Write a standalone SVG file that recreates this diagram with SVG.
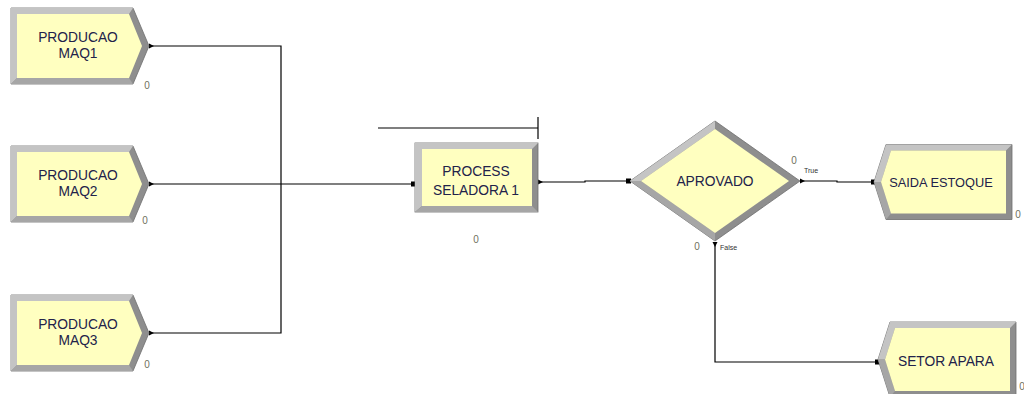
<svg xmlns="http://www.w3.org/2000/svg" width="1024" height="394" viewBox="0 0 1024 394">
<defs>
<style>
.dark{fill:#8e8e8e;stroke:#6e6e6e;stroke-width:0.8}
.light{fill:#c4c4c4}
.mid{fill:#a6a6a6}
.body{fill:#ffffc0}
.lbl{font-family:"Liberation Sans",Arial,sans-serif;font-size:13.8px;fill:#22224a;text-anchor:middle}
.cnt{font-family:"Liberation Sans",Arial,sans-serif;font-size:10px;fill:#707060;text-anchor:middle}
.tiny{font-family:"Liberation Sans",Arial,sans-serif;font-size:7px;fill:#333}
.wire{fill:none;stroke:#000;stroke-width:1.2}
</style>
<g id="createShape">
<polygon class="dark" points="0,0 122,0 138,38 122,76 0,76"/>
<polygon class="light" points="0,0 122,0 118,6 6,6 6,70 0,76"/>
<polygon class="mid" points="0,76 6,70 118,70 122,76"/>
<polygon class="body" points="6,6 118,6 131,38 118,70 6,70"/>
</g>
<g id="disposeShape">
<polygon class="dark" points="12,0 138,0 138,75 12,75 0,37.5"/>
<polygon class="light" points="12,0 138,0 132,6 17,6 7,37.5 0,37.5"/>
<polygon class="mid" points="0,37.5 7,37.5 17,69 12,75"/>
<polygon class="body" points="17,6 132,6 132,69 17,69 7,37.5"/>
</g>
</defs>
<rect width="1024" height="394" fill="#ffffff"/>

<g id="connectors">
<polyline class="wire" points="149,46 281,46 281,333 149,333"/>
<polyline class="wire" points="149,184 415,184"/>
<polyline class="wire" points="538,182 585,182 585,181 630,181"/>
<polyline class="wire" points="800,181 837,181 837,182 874,182"/>
<polyline class="wire" points="715,242 715,362 878,362"/>
<polygon points="154,46 149,43.5 149,48.5" fill="#000"/>
<polygon points="154,184 149,181.5 149,186.5" fill="#000"/>
<polygon points="154,333 149,330.5 149,335.5" fill="#000"/>
<rect x="411" y="181.5" width="5" height="5" fill="#000"/>
<polygon points="543,182 538,179.5 538,184.5" fill="#000"/>
<rect x="626" y="178.5" width="5" height="5" fill="#000"/>
<polygon points="805,181 800,178.5 800,183.5" fill="#000"/>
<polygon points="715,247 712.5,242 717.5,242" fill="#000"/>
<rect x="871" y="179.5" width="5" height="5" fill="#000"/>
<rect x="875" y="359.5" width="5" height="5" fill="#000"/>
</g>

<g id="producao-maq1">
<use href="#createShape" x="11" y="8"/>
<text class="lbl" x="78" y="42">PRODUCAO</text>
<text class="lbl" x="78" y="58">MAQ1</text>
<text class="cnt" x="147" y="89">0</text>
</g>
<g id="producao-maq2">
<use href="#createShape" x="11" y="146"/>
<text class="lbl" x="78" y="180">PRODUCAO</text>
<text class="lbl" x="78" y="196">MAQ2</text>
<text class="cnt" x="145" y="224">0</text>
</g>
<g id="producao-maq3">
<use href="#createShape" x="11" y="295"/>
<text class="lbl" x="78" y="329">PRODUCAO</text>
<text class="lbl" x="78" y="345">MAQ3</text>
<text class="cnt" x="147" y="368">0</text>
</g>

<g id="process-seladora">
<line x1="378" y1="128" x2="538" y2="128" stroke="#000" stroke-width="1.2"/>
<line x1="538" y1="117" x2="538" y2="139" stroke="#000" stroke-width="1.2"/>
<rect class="dark" x="415" y="143" width="123" height="69"/>
<polygon class="light" points="415,143 538,143 532,149 422,149 422,206 415,212"/>
<polygon class="mid" points="415,212 422,206 532,206 538,212"/>
<rect class="body" x="422" y="149" width="110" height="57"/>
<text class="lbl" x="476" y="176">PROCESS</text>
<text class="lbl" x="476" y="195">SELADORA 1</text>
<text class="cnt" x="476" y="243">0</text>
</g>

<g id="aprovado">
<polygon class="dark" points="630,181 715,121 800,181 715,241"/>
<polygon class="light" points="630,181 715,121 715,129 641,181"/>
<polygon class="mid" points="630,181 641,181 715,233 715,241"/>
<polygon class="body" points="641,181 715,129 789,181 715,233"/>
<text class="lbl" x="715" y="186">APROVADO</text>
<text class="cnt" x="794" y="164">0</text>
<text class="tiny" x="804" y="173">True</text>
<text class="cnt" x="697" y="250">0</text>
<text class="tiny" x="720" y="250">False</text>
</g>

<g id="saida-estoque">
<use href="#disposeShape" x="874" y="144.5"/>
<text class="lbl" x="941" y="187" style="font-size:12.8px">SAIDA ESTOQUE</text>
<text class="cnt" x="1018" y="218">0</text>
</g>

<g id="setor-apara">
<use href="#disposeShape" x="878" y="322"/>
<text class="lbl" x="946" y="366">SETOR APARA</text>
<text class="cnt" x="1022" y="390">0</text>
</g>
</svg>
